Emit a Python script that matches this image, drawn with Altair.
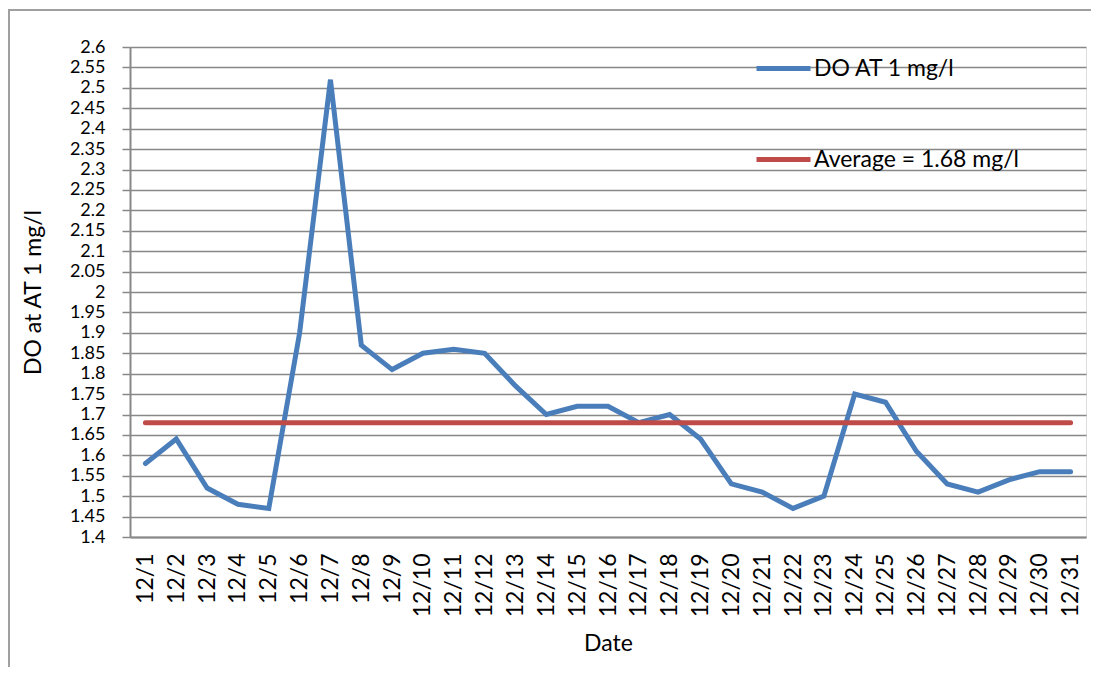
import altair as alt
import pandas as pd

dates = [f"12/{d}" for d in range(1, 32)]
do_values = [1.58, 1.64, 1.52, 1.48, 1.47, 1.90, 2.52, 1.87, 1.81, 1.85,
             1.86, 1.85, 1.77, 1.70, 1.72, 1.72, 1.68, 1.70, 1.64, 1.53,
             1.51, 1.47, 1.50, 1.75, 1.73, 1.61, 1.53, 1.51, 1.54, 1.56, 1.56]
average_value = 1.68
series_names = ["DO AT 1 mg/l", "Average = 1.68 mg/l"]
series_colors = ["#4A7EBB", "#BE4B48"]
y_ticks = [round(1.4 + 0.05 * i, 2) for i in range(25)]

rows = []
for d, v in zip(dates, do_values):
    rows.append({"date": d, "value": v, "series": series_names[0], "ord": 0})
for d in dates:
    rows.append({"date": d, "value": average_value, "series": series_names[1], "ord": 1})
df = pd.DataFrame(rows)

FONT = "Lato"
W, H = 956, 490

frame = alt.Chart(pd.DataFrame({"a": [0]})).mark_rect(
    fill=None, stroke="#a0a0a0", strokeWidth=2
).encode(
    x=alt.value(-121), x2=alt.value(W + 100),
    y=alt.value(-37), y2=alt.value(H + 200)
)

lines = alt.Chart(df).mark_line(strokeWidth=5, strokeCap="round", strokeJoin="miter").encode(
    x=alt.X("date:N", sort=dates, title="Date",
            scale=alt.Scale(type="point", padding=0.5),
            axis=alt.Axis(labelAngle=-90, ticks=False, grid=False, labelPadding=16,
                          titlePadding=16, domainColor="#888888", domainWidth=2,
                          labelFontSize=23, titleFontSize=23, labelFont=FONT,
                          titleFont=FONT, titleFontWeight="normal",
                          labelColor="#000000", titleColor="#000000")),
    y=alt.Y("value:Q", title="DO at AT 1 mg/l",
            scale=alt.Scale(domain=[1.4, 2.6], nice=False, zero=False),
            axis=alt.Axis(values=y_ticks, format="~g", tickSize=8, tickColor="#888888",
                          tickWidth=1.5, labelPadding=17, titlePadding=24,
                          labelOverlap=False, labelBound=False,
                          domainColor="#888888", domainWidth=2,
                          gridColor="#888888", gridWidth=1.5,
                          labelFontSize=18, titleFontSize=23, labelFont=FONT,
                          titleFont=FONT, titleFontWeight="normal",
                          labelColor="#000000", titleColor="#000000")),
    color=alt.Color("series:N", sort=series_names,
                    scale=alt.Scale(domain=series_names, range=series_colors),
                    legend=alt.Legend(title=None, orient="none", legendX=624, legendY=-8,
                                      symbolType="stroke", symbolSize=2916,
                                      symbolStrokeWidth=5, labelOffset=1,
                                      labelFontSize=23, labelFont=FONT,
                                      labelColor="#000000", rowPadding=49,
                                      padding=0, labelLimit=400)),
    order=alt.Order("ord:Q"),
)

chart = alt.layer(frame, lines).properties(
    width=W, height=H,
    autosize=alt.AutoSizeParams(type="none"),
    padding={"left": 122, "top": 39, "right": 5, "bottom": 130},
).configure_view(stroke=None).configure(background="white")

chart.save("out.html", embed_options={"renderer": "svg", "actions": False})
